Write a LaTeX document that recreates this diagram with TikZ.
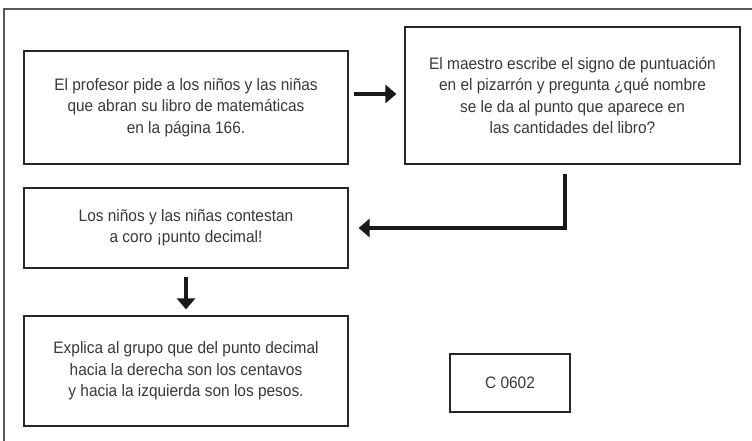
\documentclass[tikz,border=0pt]{standalone}
\usepackage{fontspec}
\setmainfont{Liberation Sans}[FakeStretch=0.93]
\usetikzlibrary{arrows.meta}
\definecolor{txtgray}{HTML}{383838}
\tikzset{
  stepbox/.style={draw=black!85, line width=1.2pt, rectangle, align=center,
    text=txtgray, font=\fontsize{16.6pt}{21.3pt}\selectfont, inner sep=0pt},
  flowarrow/.style={draw=black!90, line width=3.2pt, -{Triangle[length=11pt,width=18pt]}},
  frameline/.style={draw=black!65, line width=1.5pt}
}
\begin{document}
\begin{tikzpicture}[x=1pt,y=-1pt]
\useasboundingbox (0,0) rectangle (752,441);
\draw[frameline] (4,441) -- (4,9) -- (752,9);
\node[stepbox, minimum width=324pt, minimum height=113pt] (a) at (186,107.5)
  {El profesor pide a los niños y las niñas\\que abran su libro de matemáticas\\en la página 166.};
\node[stepbox, minimum width=335pt, minimum height=137pt] (b) at (572.5,95.5)
  {El maestro escribe el signo de puntuación\\en el pizarrón y pregunta ¿qué nombre\\se le da al punto que aparece en\\las cantidades del libro?};
\node[stepbox, minimum width=324pt, minimum height=80pt] (c) at (186,228)
  {Los niños y las niñas contestan\\a coro ¡punto decimal!};
\node[stepbox, minimum width=324pt, minimum height=110pt] (d) at (186,371)
  {Explica al grupo que del punto decimal\\hacia la derecha son los centavos\\y hacia la izquierda son los pesos.};
\node[stepbox, minimum width=120pt, minimum height=58pt] (e) at (510,383)
  {C 0602};
\draw[flowarrow] ([xshift=5pt]a.east |- 0,94) -- ([xshift=-8pt]b.west |- 0,94);
\draw[flowarrow] ([shift={(-7.5,9)}]b.south) |- ([xshift=10pt]c.east);
\draw[flowarrow] ([yshift=-8pt]c.south) -- ([yshift=6pt]d.north);
\end{tikzpicture}
\end{document}
